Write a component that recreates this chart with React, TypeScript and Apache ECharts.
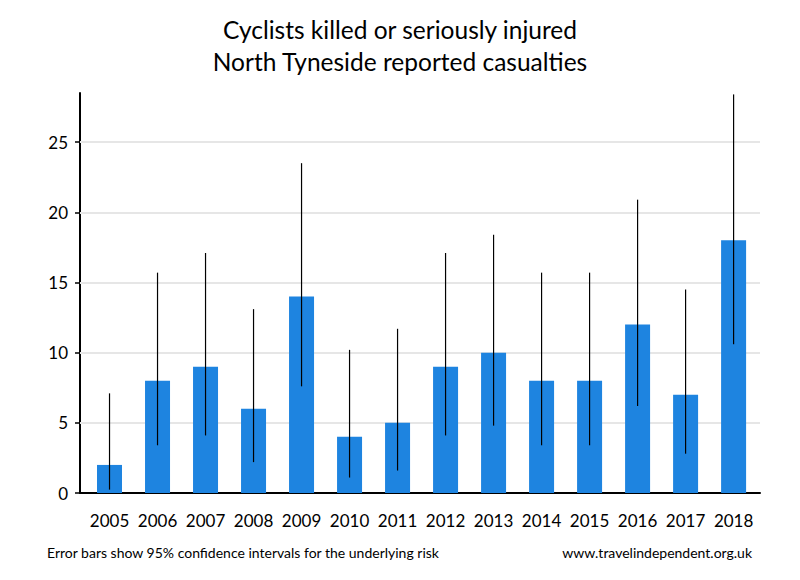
import React, { useEffect, useRef } from "react";
import * as echarts from "echarts";

const years = ["2005", "2006", "2007", "2008", "2009", "2010", "2011", "2012", "2013", "2014", "2015", "2016", "2017", "2018"];
const casualties = [2, 8, 9, 6, 14, 4, 5, 9, 10, 8, 8, 12, 7, 18];
const ciLow = [0.24, 3.4, 4.1, 2.2, 7.6, 1.1, 1.6, 4.1, 4.8, 3.4, 3.4, 6.2, 2.8, 10.6];
const ciHigh = [7.1, 15.7, 17.1, 13.1, 23.5, 10.2, 11.7, 17.1, 18.4, 15.7, 15.7, 20.9, 14.5, 28.4];
const yTicks = [0, 5, 10, 15, 20, 25];
const gridValues = [5, 10, 15, 20, 25];

const FONT = "Lato";

export default function App() {
  const ref = useRef<HTMLDivElement>(null);
  useEffect(() => {
    if (!ref.current) return;
    const chart = echarts.init(ref.current, null, { renderer: "svg" });
    const idx = years.map((_, i) => i);
    chart.setOption({
      animation: false,
      backgroundColor: "#ffffff",
      textStyle: { fontFamily: FONT },
      title: {
        text: "Cyclists killed or seriously injured\nNorth Tyneside reported casualties",
        left: "center",
        top: 8,
        textStyle: { fontFamily: FONT, fontSize: 24.5, fontWeight: "normal", color: "#000", lineHeight: 32 },
      },
      graphic: [
        {
          type: "text",
          left: 47,
          top: 545,
          style: { text: "Error bars show 95% confidence intervals for the underlying risk", fontFamily: FONT, fontSize: 14, fill: "#000" },
        },
        {
          type: "text",
          right: 48,
          top: 545,
          style: { text: "www.travelindependent.org.uk", fontFamily: FONT, fontSize: 14, fill: "#000" },
        },
      ],
      grid: { left: 80, right: 40, top: 93, bottom: 87, containLabel: false },
      xAxis: {
        type: "value",
        min: -0.615,
        max: 13.55,
        axisLine: { show: true, onZero: false, lineStyle: { color: "#000", width: 2 } },
        axisTick: { show: false },
        splitLine: { show: false },
        axisLabel: {
          customValues: idx,
          formatter: (v: number) => years[Math.round(v)] ?? "",
          fontFamily: FONT,
          fontSize: 17,
          color: "#000",
          margin: 19,
        },
      },
      yAxis: {
        type: "value",
        min: 0,
        max: 28.5,
        interval: 5,
        axisLine: { show: true, onZero: false, lineStyle: { color: "#000", width: 2 } },
        axisTick: { show: true, length: 5, customValues: yTicks, lineStyle: { color: "#000", width: 1.5 } },
        splitLine: { show: false },
        axisLabel: { customValues: yTicks, fontFamily: FONT, fontSize: 17, color: "#000", margin: 12 },
      },
      series: [
        {
          type: "line",
          data: [],
          z: 1,
          silent: true,
          markLine: {
            silent: true,
            z: 1,
            symbol: "none",
            label: { show: false },
            lineStyle: { color: "#e6e6e6", width: 2, type: "solid" },
            data: gridValues.map((v) => ({ yAxis: v })),
          },
        },
        {
          type: "bar",
          z: 10,
          barWidth: 25,
          itemStyle: { color: "#1e84e0" },
          data: casualties.map((v, i) => [i, v]),
        },
        {
          type: "custom",
          z: 11,
          data: casualties.map((_, i) => [i, ciLow[i], ciHigh[i]]),
          encode: { x: 0, y: [1, 2] },
          renderItem: (params: any, api: any) => {
            const x = api.value(0);
            const p1 = api.coord([x, api.value(1)]);
            const p2 = api.coord([x, api.value(2)]);
            return {
              type: "line",
              shape: { x1: p1[0], y1: p1[1], x2: p2[0], y2: p2[1] },
              style: { stroke: "#000", lineWidth: 1.2 },
            };
          },
        },
      ],
    });
    return () => chart.dispose();
  }, []);
  return <div ref={ref} style={{ position: "fixed", left: 0, top: 0, width: 800, height: 580 }} />;
}
